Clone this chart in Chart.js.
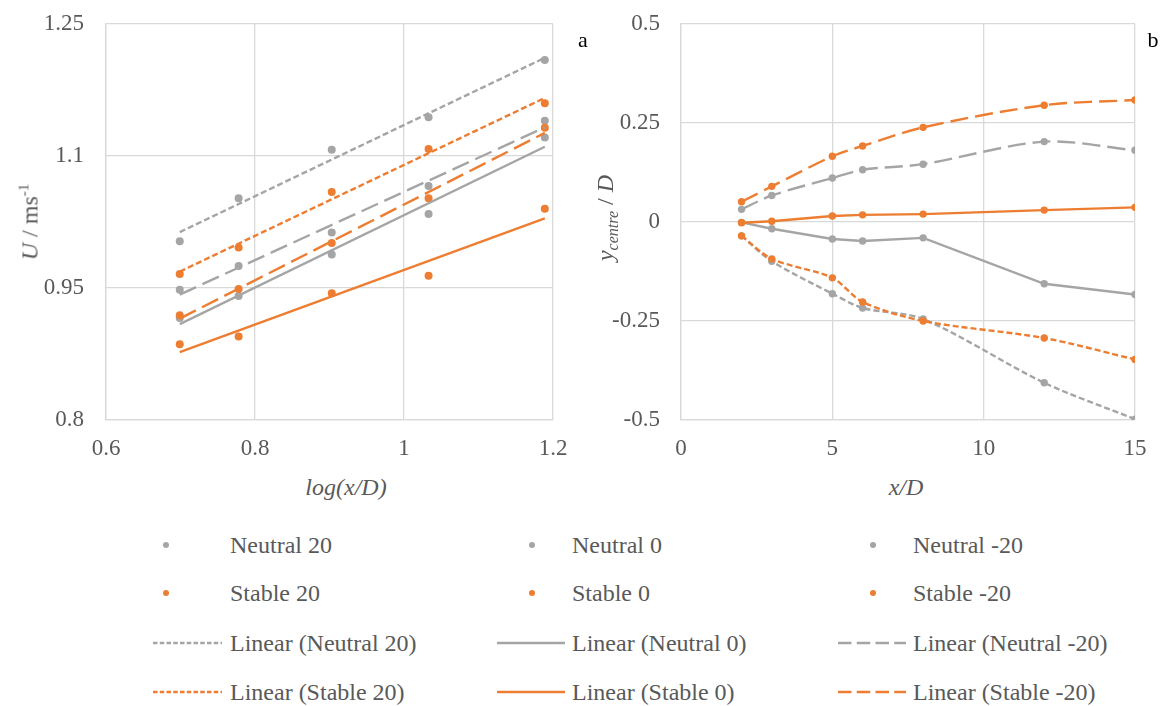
<!DOCTYPE html>
<html>
<head>
<meta charset="utf-8">
<script src="https://cdn.jsdelivr.net/npm/chart.js@4.4.1/dist/chart.umd.min.js"></script>
<style>
  html, body { margin: 0; padding: 0; background: #fff; }
  #wrap { position: relative; width: 1164px; height: 706px; overflow: hidden;
          font-family: "Liberation Serif", "Times New Roman", serif; color: #595959; }
  canvas { position: absolute; top: 0; }
  .lbl { position: absolute; white-space: nowrap; font-size: 24px; line-height: 1; }
  .rot { transform: translate(-50%, -50%) rotate(-90deg); }
  .ctr { transform: translate(-50%, -50%); }
  .leg { position: absolute; white-space: nowrap; font-size: 24px; line-height: 1; transform: translateY(-50%); }
  svg.mk { position: absolute; overflow: visible; }
</style>
</head>
<body>
<div id="wrap">
  <canvas id="chartA" width="600" height="470" style="left:0"></canvas>
  <canvas id="chartB" width="564" height="470" style="left:600px"></canvas>

  <div class="lbl rot" style="left:29px; top:222px;"><i>U</i> / ms<sup style="font-size:15px; vertical-align:9px;">-1</sup></div>
  <div class="lbl ctr" style="left:346px; top:487px;"><i>log(x/D)</i></div>
  <div class="lbl ctr" style="left:583px; top:40px; color:#000; font-size:22px;">a</div>

  <div class="lbl rot" style="left:607px; top:218px;"><i>y</i><sub style="font-size:16px; vertical-align:-5px;"><i>centre</i></sub> / <i>D</i></div>
  <div class="lbl ctr" style="left:906px; top:487px;"><i>x/D</i></div>
  <div class="lbl ctr" style="left:1153px; top:40px; color:#000; font-size:22px;">b</div>

  <div id="legend"></div>
</div>

<script>
// Daten
const seriesNames = ['Neutral 20', 'Neutral 0', 'Neutral -20', 'Stable 20', 'Stable 0', 'Stable -20'];

// Diagramm a: U über log(x/D)
const logX = [0.699, 0.778, 0.903, 1.033, 1.189];
const uNeutral20 = [1.003, 1.052, 1.107, 1.144, 1.209];
const uNeutral0 = [0.916, 0.941, 0.988, 1.034, 1.121];
const uNeutralM20 = [0.948, 0.975, 1.013, 1.066, 1.140];
const uStable20 = [0.966, 0.996, 1.059, 1.108, 1.160];
const uStable0 = [0.886, 0.895, 0.944, 0.964, 1.040];
const uStableM20 = [0.919, 0.949, 1.001, 1.052, 1.132];
const ticksAX = [0.6, 0.8, 1, 1.2];
const ticksAY = [0.8, 0.95, 1.1, 1.25];

// Diagramm b: y_centre/D über x/D
const xD = [2, 3, 5, 6, 8, 12, 15];
const yNeutral20 = [-0.035, -0.099, -0.181, -0.217, -0.245, -0.406, -0.498];
const yNeutral0 = [-0.001, -0.017, -0.043, -0.048, -0.040, -0.156, -0.183];
const yNeutralM20 = [0.032, 0.067, 0.111, 0.132, 0.146, 0.203, 0.181];
const yStable20 = [-0.035, -0.093, -0.141, -0.202, -0.250, -0.293, -0.347];
const yStable0 = [-0.002, 0.002, 0.015, 0.018, 0.020, 0.030, 0.037];
const yStableM20 = [0.051, 0.090, 0.166, 0.192, 0.239, 0.295, 0.308];
const ticksBX = [0, 5, 10, 15];
const ticksBY = [-0.5, -0.25, 0, 0.25, 0.5];

const GRAY = '#A5A5A5';
const ORANGE = '#ED7D31';
const GRID = '#D9D9D9';
const TXT = '#595959';
const FONT = '"Liberation Serif", "Times New Roman", serif';

const colors = [GRAY, GRAY, GRAY, ORANGE, ORANGE, ORANGE];
const dashes = [[6, 3], [], [18, 7], [6, 3], [], [18, 7]];
// gestrichelte Linien in b sind geglättet, durchgezogene nicht
const smooth = [0.3, 0, 0.3, 0.3, 0, 0.3];

function toPoints(xs, ys) {
  return xs.map((x, i) => ({ x: x, y: ys[i] }));
}

// lineare Regression wie Excel-Trendlinie
function linFit(xs, ys) {
  const n = xs.length;
  const mx = xs.reduce((a, b) => a + b, 0) / n;
  const my = ys.reduce((a, b) => a + b, 0) / n;
  let sxy = 0, sxx = 0;
  xs.forEach((x, i) => { sxy += (x - mx) * (ys[i] - my); sxx += (x - mx) * (x - mx); });
  const k = sxy / sxx;
  const x0 = xs[0], x1 = xs[n - 1];
  return [{ x: x0, y: my + k * (x0 - mx) }, { x: x1, y: my + k * (x1 - mx) }];
}

function fixedTicks(list) {
  return function(scale) { scale.ticks = list.map(v => ({ value: v })); };
}

function axisOpts(min, max, list, pad, extra) {
  return Object.assign({
    type: 'linear',
    min: min,
    max: max,
    afterBuildTicks: fixedTicks(list),
    grid: { color: GRID, lineWidth: 1.3, drawTicks: false },
    border: { color: GRID, width: 1.3 },
    ticks: { color: TXT, padding: pad, font: { family: FONT, size: 23 }, callback: v => String(v) }
  }, extra);
}

// Y-Achse: feste Breite, kein zusätzlicher Rand oben/unten
function fitY(width) {
  return function(s) {
    s.width = width;
    s.paddingTop = 0;
    s.paddingBottom = 0;
  };
}

// Diagramm a
const uSeries = [uNeutral20, uNeutral0, uNeutralM20, uStable20, uStable0, uStableM20];
const dsA = [];
uSeries.forEach((ys, i) => {
  dsA.push({
    label: seriesNames[i],
    data: toPoints(logX, ys),
    showLine: false,
    pointRadius: 4,
    pointBackgroundColor: colors[i],
    pointBorderColor: colors[i],
    pointBorderWidth: 0,
    order: 40 - i
  });
});
uSeries.forEach((ys, i) => {
  dsA.push({
    label: 'Linear (' + seriesNames[i] + ')',
    data: linFit(logX, ys),
    showLine: true,
    borderColor: colors[i],
    borderWidth: 2.4,
    borderDash: dashes[i],
    pointRadius: 0,
    order: 20 - i
  });
});

new Chart(document.getElementById('chartA'), {
  type: 'scatter',
  data: { datasets: dsA },
  options: {
    responsive: false,
    animation: false,
    layout: { padding: { top: 24, right: 47, left: 0, bottom: 0 } },
    plugins: { legend: { display: false }, tooltip: { enabled: false } },
    scales: {
      x: axisOpts(0.6, 1.2, ticksAX, 15, {
        afterFit: s => { s.height = 50; }
      }),
      y: axisOpts(0.8, 1.25, ticksAY, 22, {
        afterFit: fitY(106)
      })
    }
  }
});

// Diagramm b
const ySeries = [yNeutral20, yNeutral0, yNeutralM20, yStable20, yStable0, yStableM20];
const dsB = ySeries.map((ys, i) => ({
  label: seriesNames[i],
  data: toPoints(xD, ys),
  showLine: true,
  tension: smooth[i],
  borderColor: colors[i],
  borderWidth: 2.4,
  borderDash: dashes[i],
  pointRadius: 3.7,
  pointBackgroundColor: colors[i],
  pointBorderWidth: 0,
  order: 20 - i
}));

new Chart(document.getElementById('chartB'), {
  type: 'scatter',
  data: { datasets: dsB },
  options: {
    responsive: false,
    animation: false,
    layout: { padding: { top: 24, right: 29, left: 0, bottom: 0 } },
    plugins: { legend: { display: false }, tooltip: { enabled: false } },
    scales: {
      x: axisOpts(0, 15, ticksBX, 15, {
        afterFit: s => { s.height = 50; }
      }),
      y: axisOpts(-0.5, 0.5, ticksBY, 21, {
        afterFit: fitY(81)
      })
    }
  }
});

// Legende (3 Spalten x 4 Zeilen)
const legendEl = document.getElementById('legend');
const colText = [230, 572, 913];
const colDot = [166, 532, 873];
const colLine = [[153, 222], [497, 565], [838, 906]];
const rowY = [545, 593, 643, 692];

seriesNames.forEach((name, i) => {
  const col = i % 3;
  const row = Math.floor(i / 3);
  const y = rowY[row];
  legendEl.insertAdjacentHTML('beforeend',
    `<svg class="mk" width="1" height="1" style="left:${colDot[col]}px; top:${y}px;">
       <circle cx="0" cy="0" r="3" fill="${colors[i]}"></circle></svg>
     <div class="leg" style="left:${colText[col]}px; top:${y}px;">${name}</div>`);

  const y2 = rowY[row + 2];
  const [x0, x1] = colLine[col];
  const dash = dashes[i].length ? `stroke-dasharray="${dashes[i].map(d => d * 0.75).join(' ')}"` : '';
  legendEl.insertAdjacentHTML('beforeend',
    `<svg class="mk" width="1" height="1" style="left:${x0}px; top:${y2}px;">
       <line x1="0" y1="0" x2="${x1 - x0}" y2="0" stroke="${colors[i]}" stroke-width="2.6" ${dash}></line></svg>
     <div class="leg" style="left:${colText[col]}px; top:${y2}px;">Linear (${name})</div>`);
});
</script>
</body>
</html>
